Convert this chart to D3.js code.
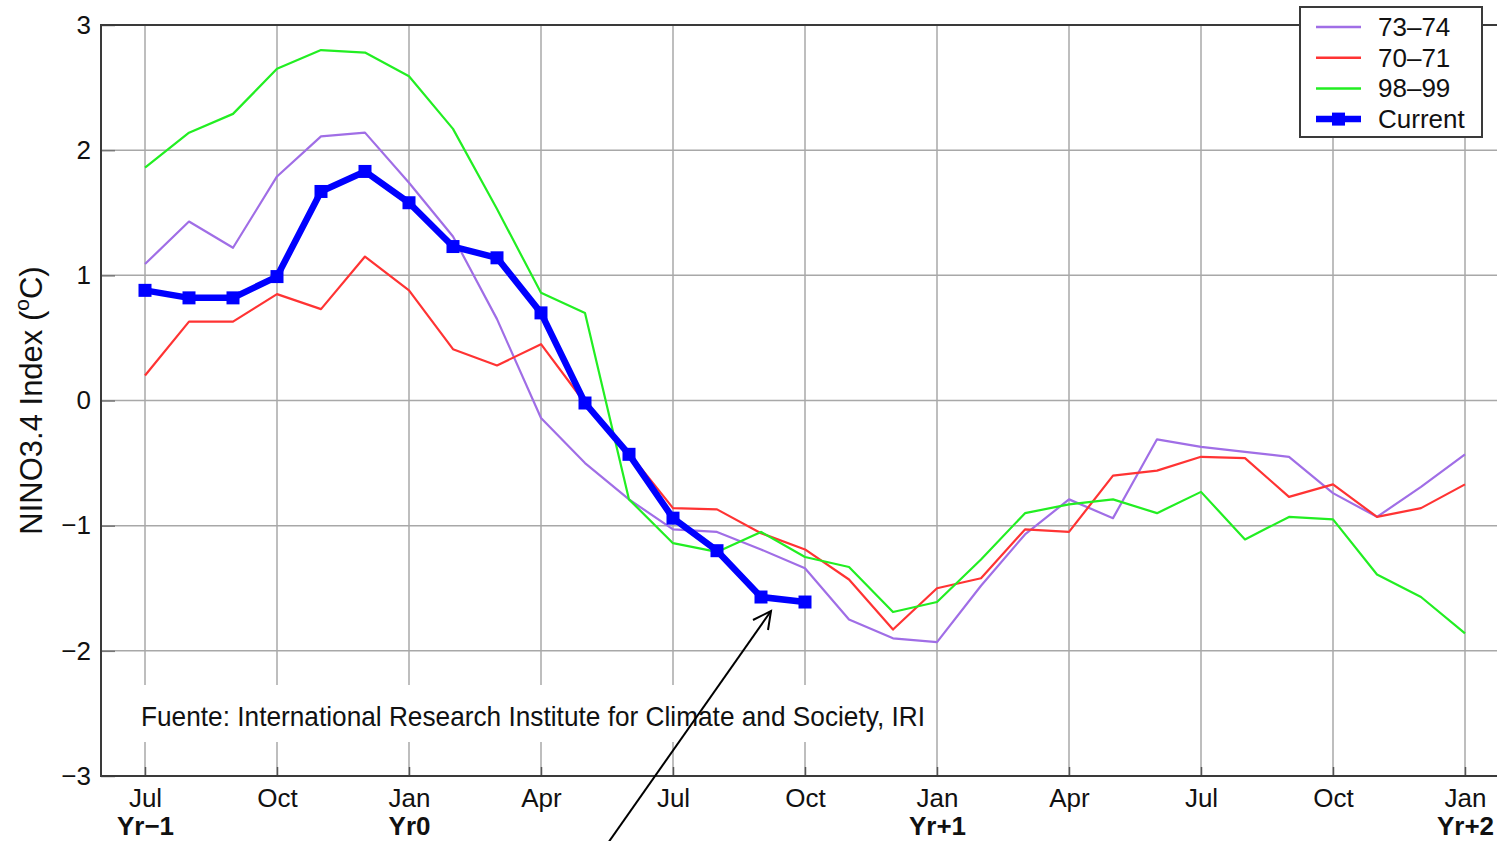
<!DOCTYPE html>
<html>
<head>
<meta charset="utf-8">
<script src="https://cdn.jsdelivr.net/npm/d3@7"></script>
<style>
  html, body { margin: 0; padding: 0; background: #fff; overflow: hidden; }
  svg { display: block; }
</style>
</head>
<body>
<svg id="chart" width="1497" height="841"></svg>
<script>
// ---------- DATA ----------
const monthIndex = d3.range(0, 31); // Jul Yr-1 ... Jan Yr+2
const tickMonths = [0, 3, 6, 9, 12, 15, 18, 21, 24, 27, 30];
const tickLabels = ["Jul", "Oct", "Jan", "Apr", "Jul", "Oct", "Jan", "Apr", "Jul", "Oct", "Jan"];
const yearTicks = [0, 6, 18, 30];
const yearLabels = ["Yr\u22121", "Yr0", "Yr+1", "Yr+2"];
const yTicks = [-3, -2, -1, 0, 1, 2, 3];
const yTickLabels = ["\u22123", "\u22122", "\u22121", "0", "1", "2", "3"];

const series7374 = [1.09, 1.43, 1.22, 1.79, 2.11, 2.14, 1.74, 1.31, 0.65, -0.14, -0.50, -0.79, -1.03, -1.05, -1.19, -1.34,
  -1.75, -1.90, -1.93, -1.48, -1.07, -0.79, -0.94, -0.31, -0.37, -0.41, -0.45, -0.74, -0.93, -0.69, -0.43];
const series7071 = [0.20, 0.63, 0.63, 0.85, 0.73, 1.15, 0.88, 0.41, 0.28, 0.45, -0.02, -0.42, -0.86, -0.87, -1.06, -1.19,
  -1.43, -1.83, -1.50, -1.42, -1.03, -1.05, -0.60, -0.56, -0.45, -0.46, -0.77, -0.67, -0.93, -0.86, -0.67];
const series9899 = [1.86, 2.14, 2.29, 2.65, 2.80, 2.78, 2.59, 2.17, 1.53, 0.86, 0.70, -0.79, -1.14, -1.21, -1.05, -1.25,
  -1.33, -1.69, -1.61, -1.27, -0.90, -0.83, -0.79, -0.90, -0.73, -1.11, -0.93, -0.95, -1.39, -1.57, -1.86];
const seriesCurrent = [0.88, 0.82, 0.82, 0.99, 1.67, 1.83, 1.58, 1.23, 1.14, 0.70, -0.02, -0.43, -0.94, -1.20, -1.57, -1.61];

const seriesNames = ["73\u201374", "70\u201371", "98\u201399", "Current"];
const seriesColors = ["#a06ee6", "#ff3333", "#22ee22", "#0000ff"];

const sourceText = "Fuente: International Research Institute for Climate and Society, IRI";
const yAxisTitle = "NINO3.4 Index (";

// ---------- LAYOUT ----------
const svg = d3.select("#chart");
const x = d3.scaleLinear().domain([0, 30]).range([145, 1465]);
const y = d3.scaleLinear().domain([-3, 3]).range([776, 25]);
const pLeft = x(-1), pRight = x(31.5), pTop = y(3), pBottom = y(-3);
const fontMain = "'Liberation Sans', Arial, Helvetica, sans-serif";

// gridlines
const grid = svg.append("g").attr("stroke", "#a8a8a8").attr("stroke-width", 1.5);
grid.selectAll("line.v").data(tickMonths).join("line").attr("class", "v")
  .attr("x1", d => x(d)).attr("x2", d => x(d)).attr("y1", pTop).attr("y2", pBottom);
grid.selectAll("line.h").data(yTicks.slice(1, -1)).join("line").attr("class", "h")
  .attr("x1", pLeft).attr("x2", pRight).attr("y1", d => y(d)).attr("y2", d => y(d));

// source text box (white background hides grid)
svg.append("rect").attr("x", 132).attr("y", 685).attr("width", 800).attr("height", 57).attr("fill", "#fff");
svg.append("text").attr("x", 141).attr("y", 726)
  .attr("font-family", "'Liberation Sans Narrow', 'Arial Narrow', sans-serif")
  .attr("font-size", 28).attr("fill", "#111")
  .attr("textLength", 784).attr("lengthAdjust", "spacingAndGlyphs")
  .text(sourceText);

// axes
const xAxis = d3.axisBottom(x).tickValues(tickMonths).tickSize(-9).tickFormat((d, i) => tickLabels[i]).tickPadding(13);
const gx = svg.append("g").attr("transform", `translate(0,${pBottom})`).call(xAxis);
gx.select(".domain").remove();
gx.selectAll(".tick line").attr("stroke", "#555").attr("stroke-width", 1.5);
gx.selectAll(".tick text").attr("font-family", fontMain).attr("font-size", 26).attr("fill", "#111");

const yearAxis = d3.axisBottom(x).tickValues(yearTicks).tickSize(0).tickFormat((d, i) => yearLabels[i]).tickPadding(41);
const gyr = svg.append("g").attr("transform", `translate(0,${pBottom})`).call(yearAxis);
gyr.select(".domain").remove();
gyr.selectAll(".tick text").attr("font-family", fontMain).attr("font-size", 26).attr("font-weight", "bold").attr("fill", "#111");

const yAxis = d3.axisLeft(y).tickValues(yTicks).tickSize(-14).tickFormat((d, i) => yTickLabels[i]).tickPadding(10);
const gy = svg.append("g").attr("transform", `translate(${pLeft},0)`).call(yAxis);
gy.select(".domain").remove();
gy.selectAll(".tick line").attr("stroke", "#777").attr("stroke-width", 1.5);
gy.selectAll(".tick text").attr("font-family", fontMain).attr("font-size", 26).attr("fill", "#111");

// frame
const frame = svg.append("g").attr("stroke", "#3a3a3a").attr("stroke-width", 2).attr("fill", "none");
frame.append("path").attr("d", `M${pRight},${pTop}H${pLeft}V${pBottom}H${pRight}`);

// y axis title
const yt = svg.append("text")
  .attr("transform", `translate(42,${(pTop + pBottom) / 2}) rotate(-90)`)
  .attr("text-anchor", "middle")
  .attr("font-family", fontMain).attr("font-size", 31).attr("fill", "#111");
yt.append("tspan").text(yAxisTitle);
yt.append("tspan").attr("dy", -13).attr("font-size", 21).text("o");
yt.append("tspan").attr("dy", 13).text("C)");

// lines
const line = d3.line().x((d, i) => x(i)).y(d => y(d));
const allSeries = [series7374, series7071, series9899];
svg.append("g").selectAll("path").data(allSeries).join("path")
  .attr("d", d => line(d)).attr("fill", "none")
  .attr("stroke", (d, i) => seriesColors[i]).attr("stroke-width", 2.2)
  .attr("stroke-linejoin", "round");

svg.append("path").attr("d", line(seriesCurrent)).attr("fill", "none")
  .attr("stroke", seriesColors[3]).attr("stroke-width", 6.5).attr("stroke-linejoin", "round");
svg.append("g").selectAll("rect").data(seriesCurrent).join("rect")
  .attr("x", (d, i) => x(i) - 6.5).attr("y", d => y(d) - 6.5)
  .attr("width", 13).attr("height", 13).attr("fill", seriesColors[3]);

// arrow
const arrow = svg.append("g").attr("stroke", "#000").attr("stroke-width", 2).attr("fill", "none");
arrow.append("line").attr("x1", 608).attr("y1", 843).attr("x2", 771).attr("y2", 611);
arrow.append("path").attr("d", "M753,620 L771,611 L768,630");

// legend
const lg = svg.append("g");
lg.append("rect").attr("x", 1300).attr("y", 7).attr("width", 182).attr("height", 130)
  .attr("fill", "#fff").attr("stroke", "#3a3a3a").attr("stroke-width", 2);
const rows = lg.selectAll("g.row").data(seriesNames).join("g").attr("class", "row")
  .attr("transform", (d, i) => `translate(0,${27 + i * 30.7})`);
rows.append("line").attr("x1", 1316).attr("x2", 1361).attr("y1", 0).attr("y2", 0)
  .attr("stroke", (d, i) => seriesColors[i]).attr("stroke-width", (d, i) => i === 3 ? 6.5 : 2.5);
rows.filter((d, i) => i === 3).append("rect").attr("x", 1332).attr("y", -6.5).attr("width", 13).attr("height", 13)
  .attr("fill", seriesColors[3]);
rows.append("text").attr("x", 1378).attr("y", 9).attr("font-family", fontMain).attr("font-size", 26)
  .attr("fill", "#111").text(d => d);
</script>
</body>
</html>
